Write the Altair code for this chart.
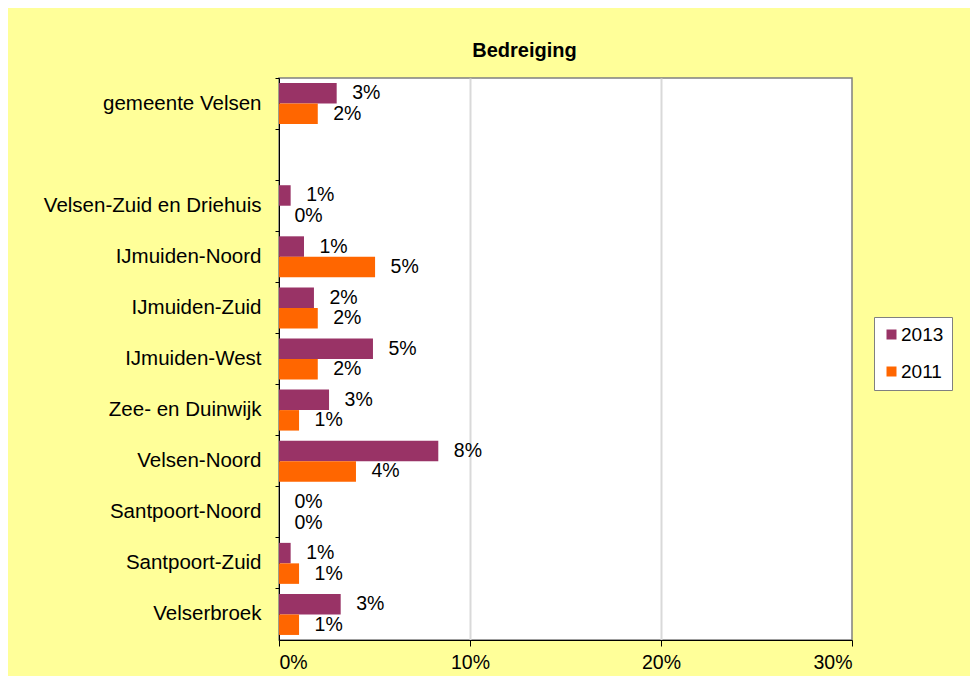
import altair as alt
import pandas as pd

categories = ["gemeente Velsen", " ", "Velsen-Zuid en Driehuis", "IJmuiden-Noord",
              "IJmuiden-Zuid", "IJmuiden-West", "Zee- en Duinwijk", "Velsen-Noord",
              "Santpoort-Noord", "Santpoort-Zuid", "Velserbroek"]
data_categories = ["gemeente Velsen", "Velsen-Zuid en Driehuis", "IJmuiden-Noord",
                   "IJmuiden-Zuid", "IJmuiden-West", "Zee- en Duinwijk", "Velsen-Noord",
                   "Santpoort-Noord", "Santpoort-Zuid", "Velserbroek"]
values_2013 = [0.0302, 0.0061, 0.0131, 0.0183, 0.0492, 0.0262, 0.0834, 0.0, 0.0061, 0.0323]
values_2011 = [0.0203, 0.0, 0.0503, 0.0203, 0.0203, 0.0105, 0.0403, 0.0, 0.0105, 0.0105]
years = ["2013", "2011"]
colors = ["#993366", "#FF6600"]

rows = []
for c, v13, v11 in zip(data_categories, values_2013, values_2011):
    rows.append({"cat": c, "year": "2013", "value": v13})
    rows.append({"cat": c, "year": "2011", "value": v11})
df = pd.DataFrame(rows)

FONT = "Liberation Sans"

y_enc = alt.Y("cat:N", scale=alt.Scale(domain=categories, paddingInner=0, paddingOuter=0),
              axis=alt.Axis(title=None, labelFontSize=20.5, labelFont=FONT, labelColor="black",
                            tickSize=4, tickColor="black", domainColor="black",
                            labelPadding=14, bandPosition=0, ticks=True, grid=False,
                            labelLimit=400))
yoff = alt.YOffset("year:N", sort=years, scale=alt.Scale(domain=years, paddingInner=0, paddingOuter=0.246))
x_enc = alt.X("value:Q", scale=alt.Scale(domain=[0, 0.3], nice=False),
              axis=alt.Axis(title=None, format=".0%", values=[0, 0.1, 0.2, 0.3],
                            labelFontSize=19.5, labelFont=FONT, labelColor="black",
                            tickSize=6, tickColor="black", domainColor="black",
                            labelPadding=7, grid=True, gridWidth=2,
                            gridColor={"condition": {"test": "datum.value >= 0.3 || datum.value <= 0", "value": "transparent"}, "value": "#d9d9d9"}))

bars = alt.Chart(df).mark_bar(size=20.5).encode(
    x=x_enc, y=y_enc, yOffset=yoff,
    color=alt.Color("year:N", scale=alt.Scale(domain=years, range=colors),
                    legend=alt.Legend(title=None, orient="none", legendX=595, legendY=239,
                                      symbolType="square", symbolSize=100,
                                      symbolStrokeWidth=0,
                                      labelFontSize=19, labelFont=FONT, labelColor="black",
                                      fillColor="white", strokeColor="#808080",
                                      padding=8, rowPadding=17, labelOffset=0))
)

labels = alt.Chart(df).mark_text(align="left", baseline="middle", dx=15.5,
                                 fontSize=19.5, font=FONT, color="black").encode(
    x=alt.X("value:Q"), y=alt.Y("cat:N"), yOffset=alt.YOffset("year:N", sort=years),
    text=alt.Text("value:Q", format=".0%")
)

chart = (bars + labels).properties(
    width=573, height=562,
    title=alt.TitleParams("Bedreiging", font=FONT, fontSize=20, fontWeight="bold",
                          color="black", anchor="middle", dx=-41, offset=1,
                          baseline="alphabetic"),
    autosize=alt.AutoSizeParams(type="none"),
    padding={"left": 271, "top": 70, "right": 118, "bottom": 36},
    background="#FFFF99",
).configure_view(fill="white", stroke="#808080", strokeWidth=1.5)

chart.save("out.html", embed_options={"renderer": "svg", "actions": False})
